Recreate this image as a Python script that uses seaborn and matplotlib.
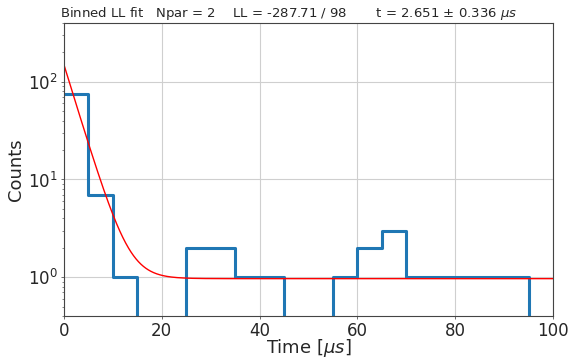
import numpy as np
import pandas as pd
import matplotlib
matplotlib.use("Agg")
import matplotlib.pyplot as plt
import seaborn as sns

# Histogram data (bin edges in microseconds, counts per bin)
bin_edges = [0, 5, 10, 15, 20, 25, 30, 35, 40, 45, 50, 55, 60, 65, 70, 75, 80, 85, 90, 95, 100]
counts = [75, 7, 1, 0, 0, 2, 2, 1, 1, 0, 0, 1, 2, 3, 1, 1, 1, 1, 1, 0]

# Fit parameters (exponential + flat background)
fit_amplitude = 148.0
fit_tau = 2.651
fit_background = 0.965

title_text = r"Binned LL fit   Npar = 2    LL = -287.71 / 98       t = 2.651 $\pm$ 0.336 $\mu s$"

sns.set_style("ticks")
plt.rcParams['font.family'] = ['DejaVu Sans']

fig = plt.figure(figsize=(5.69, 3.58), dpi=100)
ax = fig.add_axes([64/569, 1 - 316/358, (553-64)/569, (316-23)/358])

centers = [(a + b) / 2 for a, b in zip(bin_edges[:-1], bin_edges[1:])]
df = pd.DataFrame({"time": centers, "counts": counts})
sns.histplot(data=df, x="time", weights="counts", bins=bin_edges, element="step",
             fill=False, color="#1f77b4", linewidth=2.2, ax=ax)

t = np.linspace(0, 100, 1000)
fit = fit_amplitude * np.exp(-t / fit_tau) + fit_background
sns.lineplot(x=t, y=fit, color="red", linewidth=1.0, ax=ax)

ax.set_yscale("log")
ax.set_xlim(0, 100)
ax.set_ylim(0.4, 400)
ax.set_xticks([0, 20, 40, 60, 80, 100])
ax.grid(True, which="major", color="#cfcfcf", linewidth=0.8)
ax.set_axisbelow(True)
ax.set_xlabel(r"Time [$\mu s$]", fontsize=13, labelpad=-2)
ax.set_ylabel("Counts", fontsize=13, labelpad=2)
ax.tick_params(axis="both", which="major", labelsize=12, length=2.5, width=0.6, pad=2, color="#555555")
ax.tick_params(axis="y", which="minor", length=1.5, width=0.5, color="#555555")
for s in ax.spines.values():
    s.set_visible(True)
    s.set_color("#444444")
    s.set_linewidth(0.8)

fig.text(60/569, 1 - 5/358, title_text, ha="left", va="top", fontsize=9.5)

fig.savefig("out.png", dpi=100)
